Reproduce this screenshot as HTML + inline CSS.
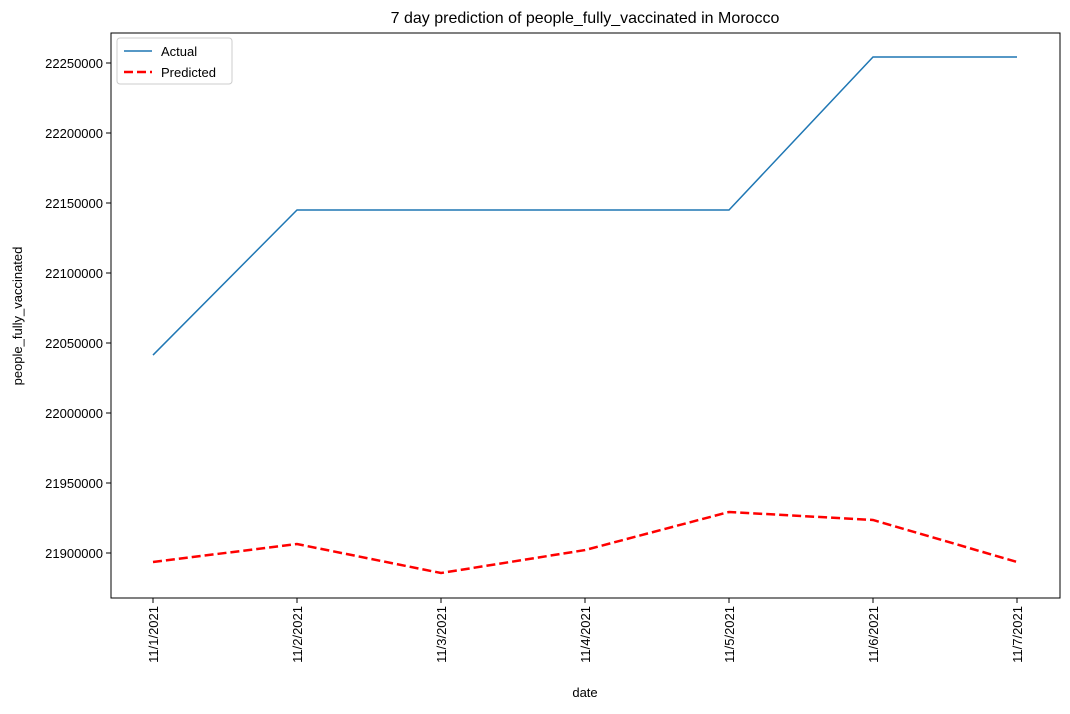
<!DOCTYPE html>
<html><head><meta charset="utf-8"><style>
body{margin:0;background:#fff;}
svg text{font-family:"Liberation Sans","DejaVu Sans",sans-serif;fill:#000;}
</style></head><body>
<svg id="chart" width="1070" height="709" xmlns="http://www.w3.org/2000/svg"></svg>
<script>
const categories=["11/1/2021","11/2/2021","11/3/2021","11/4/2021","11/5/2021","11/6/2021","11/7/2021"];
const actualValues=[22041400,22145000,22145000,22145000,22145000,22254300,22254300];
const predictedValues=[21893600,21906400,21885700,21902100,21929300,21923600,21893600];
const yTicks=[21900000,21950000,22000000,22050000,22100000,22150000,22200000,22250000];
const L=111,R=1060,T=33,B=598;
const yMin=21867857,yMax=22271429;
const x0=153,x1=1017;
function xs(i){return x0+(x1-x0)*i/(categories.length-1);}
function ys(v){return 553-(v-21900000)/50000*70;}
const svg=document.getElementById('chart');
const NS='http://www.w3.org/2000/svg';
function el(tag,attrs,parent){const e=document.createElementNS(NS,tag);for(const k in attrs)e.setAttribute(k,attrs[k]);(parent||svg).appendChild(e);return e;}
const title=el('text',{x:585,y:23,'text-anchor':'middle','font-size':16});
title.textContent='7 day prediction of people_fully_vaccinated in Morocco';


yTicks.forEach(v=>{const y=ys(v);
 const t=el('line',{x1:L-5,x2:L,y1:y,y2:y,stroke:'#000'});
 
 
 const tx=el('text',{x:L-8,y:y+5,'text-anchor':'end','font-size':13});
 tx.textContent=v;
 
 
});
categories.forEach((c,i)=>{const x=xs(i);
 const t=el('line',{x1:x,x2:x,y1:B,y2:B+5,stroke:'#000'});
 
 
 const tx=el('text',{x:x+5,y:B+8,'text-anchor':'end','font-size':13,transform:`rotate(-90 ${x+5} ${B+8})`});
 tx.textContent=c;
 
 
});
function path(vals){return vals.map((v,i)=>(i?'L':'M')+xs(i)+' '+ys(v)).join(' ');}
const a=el('path',{d:path(actualValues),fill:'none',stroke:'#1f77b4','stroke-width':1.5});


const p=el('path',{d:path(predictedValues),fill:'none',stroke:'#ff0000','stroke-width':2.5,'stroke-dasharray':'9,4'});


const frame=el('rect',{x:L,y:T,width:R-L,height:B-T,fill:'none',stroke:'#000','stroke-width':1});


const xl=el('text',{x:585,y:697,'text-anchor':'middle','font-size':13});
xl.textContent='date';


const yl=el('text',{x:22,y:316,'text-anchor':'middle','font-size':13,transform:'rotate(-90 22 316)'});
yl.textContent='people_fully_vaccinated';


const lg=el('g',{});


el('rect',{x:117,y:38,width:115,height:46,rx:3,fill:'#fff',stroke:'#ccc'},lg);
const l1=el('line',{x1:124,x2:152,y1:51,y2:51,stroke:'#1f77b4','stroke-width':1.5},lg);


const t1=el('text',{x:161,y:56,'font-size':13},lg);t1.textContent='Actual';


const l2=el('line',{x1:124,x2:152,y1:72,y2:72,stroke:'#ff0000','stroke-width':2.5,'stroke-dasharray':'9,4'},lg);


const t2=el('text',{x:161,y:77,'font-size':13},lg);t2.textContent='Predicted';


</script>
</body></html>
